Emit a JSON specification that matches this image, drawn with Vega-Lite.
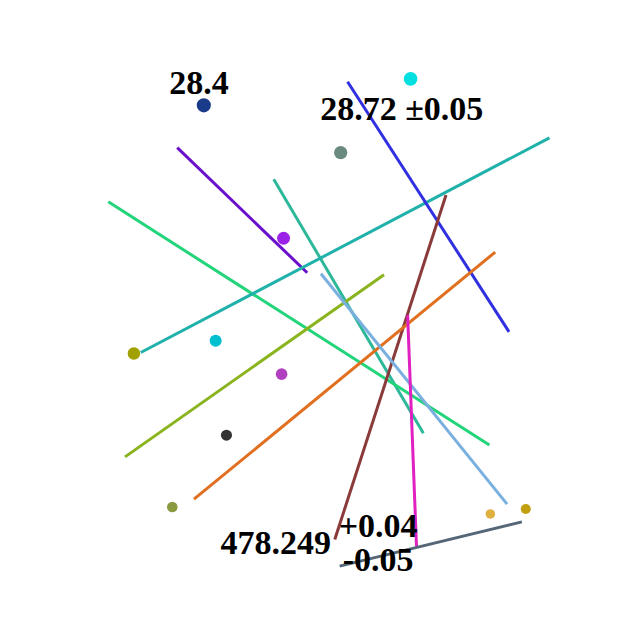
{
  "$schema": "https://vega.github.io/schema/vega-lite/v6.json",
  "width": 640,
  "height": 640,
  "autosize": {"type": "fit", "contains": "padding"},
  "padding": 0,
  "config": {"background": "white", "view": {"stroke": null}},
  "resolve": {"scale": {"color": "independent", "size": "independent", "strokeWidth": "independent"}},
  "datasets": {
    "segs": [
      {"id": "a", "x": 180, "y": 150}, {"id": "a", "x": 312, "y": 277},
      {"id": "b", "x": 278, "y": 182}, {"id": "b", "x": 430, "y": 440},
      {"id": "c", "x": 110, "y": 205}, {"id": "c", "x": 497, "y": 452},
      {"id": "d", "x": 143, "y": 358}, {"id": "d", "x": 558, "y": 140},
      {"id": "e", "x": 353, "y": 83}, {"id": "e", "x": 517, "y": 337},
      {"id": "f", "x": 453, "y": 198}, {"id": "f", "x": 340, "y": 548},
      {"id": "g", "x": 197, "y": 507}, {"id": "g", "x": 503, "y": 256},
      {"id": "h", "x": 127, "y": 464}, {"id": "h", "x": 390, "y": 279},
      {"id": "i", "x": 326, "y": 278}, {"id": "i", "x": 515, "y": 512},
      {"id": "j", "x": 414, "y": 320}, {"id": "j", "x": 423, "y": 555},
      {"id": "k", "x": 345, "y": 575}, {"id": "k", "x": 530, "y": 530}
    ],
    "pts": [
      {"id": "p1", "x": 207, "y": 107}, {"id": "p2", "x": 417, "y": 80},
      {"id": "p3", "x": 346, "y": 155}, {"id": "p4", "x": 288, "y": 242},
      {"id": "p5", "x": 136, "y": 359}, {"id": "p6", "x": 219, "y": 346},
      {"id": "p7", "x": 286, "y": 380}, {"id": "p8", "x": 230, "y": 442},
      {"id": "p9", "x": 175, "y": 515}, {"id": "p10", "x": 534, "y": 517},
      {"id": "p11", "x": 498, "y": 522}
    ],
    "labels": [
      {"id": "t1", "x": 202, "y": 85, "t": "28.4"},
      {"id": "t2", "x": 408, "y": 112, "t": "28.72 ±0.05"},
      {"id": "t3", "x": 280, "y": 552, "t": "478.249"},
      {"id": "t4", "x": 384, "y": 535, "t": "+0.04"},
      {"id": "t5", "x": 384, "y": 570, "t": "-0.05"}
    ]
  },
  "layer": [
    {
      "data": {"name": "segs"},
      "mark": {"type": "line"},
      "encoding": {
        "x": {"field": "x", "type": "quantitative", "scale": {"domain": [0, 640]}, "axis": null},
        "y": {"field": "y", "type": "quantitative", "scale": {"domain": [0, 640], "reverse": true}, "axis": null},
        "detail": {"field": "id"},
        "color": {"field": "id", "type": "nominal", "legend": null,
          "scale": {"domain": ["a","b","c","d","e","f","g","h","i","j","k"],
            "range": ["#6a10cc","#2eb89a","#22d47a","#20b2aa","#3030e0","#8b3a3a","#e07020","#8ab41e","#7ab0e0","#e020c0","#556677"]}},
        "strokeWidth": {"field": "id", "type": "nominal", "legend": null,
          "scale": {"domain": ["a","b","c","d","e","f","g","h","i","j","k"],
            "range": [3,3,4,1,1,2,1,4,2,2,2]}}
      }
    },
    {
      "data": {"name": "pts"},
      "mark": {"type": "circle", "opacity": 1},
      "encoding": {
        "x": {"field": "x", "type": "quantitative"},
        "y": {"field": "y", "type": "quantitative"},
        "color": {"field": "id", "type": "nominal", "legend": null,
          "scale": {"domain": ["p1","p2","p3","p4","p5","p6","p7","p8","p9","p10","p11"],
            "range": ["#1a3a8a","#00e0e0","#6a8a80","#9b20e8","#a0a000","#00c0d0","#b040c0","#333333","#8a9a40","#c0a010","#e0b040"]}},
        "size": {"field": "id", "type": "nominal", "legend": null,
          "scale": {"domain": ["p1","p2","p3","p4","p5","p6","p7","p8","p9","p10","p11"],
            "range": [200,90,90,200,200,90,20,3,200,90,35]}}
      }
    },
    {
      "data": {"name": "labels"},
      "mark": {"type": "text", "font": "Liberation Serif", "fontWeight": "bold", "color": "black", "baseline": "middle"},
      "encoding": {
        "x": {"field": "x", "type": "quantitative"},
        "y": {"field": "y", "type": "quantitative"},
        "text": {"field": "t"},
        "size": {"field": "id", "type": "nominal", "legend": null,
          "scale": {"domain": ["t1","t2","t3","t4","t5"], "range": [34,34,36,21,21]}}
      }
    }
  ]
}
